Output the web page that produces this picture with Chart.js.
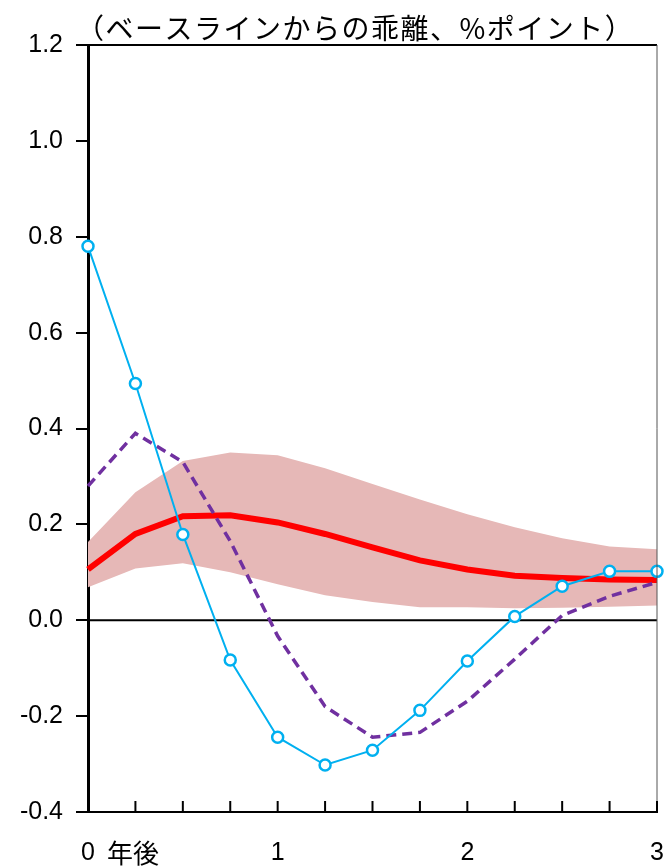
<!DOCTYPE html>
<html>
<head>
<meta charset="utf-8">
<script src="https://cdn.jsdelivr.net/npm/chart.js@4"></script>
<style>
  html, body { margin: 0; padding: 0; background: #fff; }
  #wrap { width: 665px; height: 867px; }
</style>
</head>
<body>
<div id="wrap"><canvas id="lineChart" width="665" height="867"></canvas></div>
<script>
// 四半期ごと（0〜3年後）
const quarters = ['0', '0.25', '0.5', '0.75', '1', '1.25', '1.5', '1.75', '2', '2.25', '2.5', '2.75', '3'];

// 信頼区間（上限・下限）
const bandUpper = [0.163, 0.267, 0.332, 0.350, 0.344, 0.317, 0.284, 0.252, 0.221, 0.194, 0.171, 0.154, 0.148];
const bandLower = [0.069, 0.108, 0.119, 0.100, 0.075, 0.052, 0.038, 0.027, 0.027, 0.025, 0.026, 0.028, 0.031];

// 中心線（赤）
const median = [0.106, 0.180, 0.217, 0.219, 0.204, 0.180, 0.152, 0.125, 0.106, 0.093, 0.088, 0.085, 0.084];

// 破線（紫）
const dashed = [0.280, 0.390, 0.330, 0.165, -0.033, -0.180, -0.244, -0.234, -0.169, -0.081, 0.010, 0.050, 0.079];

// 実績（青・白抜きマーカー）
const actual = [0.780, 0.494, 0.179, -0.083, -0.244, -0.302, -0.271, -0.188, -0.085, 0.008, 0.071, 0.102, 0.102];

const yTicks = { min: -0.4, max: 1.2, step: 0.2 };
const unitLabel = '（ベースラインからの乖離、%ポイント）';
const yearSuffix = '年後';

const fontLatin = "'Liberation Sans', Arial, sans-serif";
const fontJp = "'Noto Sans CJK JP', sans-serif";

// 枠・ゼロ線・内向き目盛・注記
const decorations = {
    id: 'decorations',
    beforeDatasetsDraw(chart) {
        const { ctx, chartArea: a, scales } = chart;
        ctx.save();
        // ゼロ線
        const y0 = scales.y.getPixelForValue(0);
        ctx.strokeStyle = '#000';
        ctx.lineWidth = 2;
        ctx.beginPath();
        ctx.moveTo(a.left, y0);
        ctx.lineTo(a.right, y0);
        ctx.stroke();
        ctx.restore();
    },
    afterDraw(chart) {
        const { ctx, chartArea: a, scales } = chart;
        ctx.save();
        // 上枠・右枠
        ctx.strokeStyle = '#000';
        ctx.lineWidth = 2;
        ctx.beginPath();
        ctx.moveTo(a.left, a.top);
        ctx.lineTo(a.right, a.top);
        ctx.stroke();
        ctx.strokeStyle = '#555';
        ctx.lineWidth = 1;
        ctx.beginPath();
        ctx.moveTo(a.right, a.top);
        ctx.lineTo(a.right, a.bottom);
        ctx.stroke();
        // x軸の内向き目盛
        ctx.strokeStyle = '#000';
        ctx.lineWidth = 2;
        scales.x.ticks.forEach((t, i) => {
            const x = scales.x.getPixelForTick(i);
            ctx.beginPath();
            ctx.moveTo(x, a.bottom);
            ctx.lineTo(x, a.bottom - 11);
            ctx.stroke();
        });
        // 単位
        ctx.fillStyle = '#000';
        ctx.font = '28px ' + fontJp;
        ctx.letterSpacing = '1.5px';
        ctx.textBaseline = 'middle';
        ctx.textAlign = 'left';
        ctx.fillText(unitLabel, a.left - 12, a.top - 17);
        // 「年後」
        ctx.letterSpacing = '0px';
        ctx.font = '26px ' + fontJp;
        ctx.fillText(yearSuffix, scales.x.getPixelForValue(0) + 19, a.bottom + 41);
        ctx.restore();
    }
};

const lineChart = document.getElementById('lineChart').getContext('2d');

new Chart(lineChart, {
    type: 'line',
    data: {
        labels: quarters,
        datasets: [
            {
                label: 'upper',
                data: bandUpper,
                borderWidth: 0,
                pointRadius: 0,
                fill: '+1',
                backgroundColor: 'rgb(230,184,183)',
                order: 5
            },
            {
                label: 'lower',
                data: bandLower,
                borderWidth: 0,
                pointRadius: 0,
                fill: false,
                order: 5
            },
            {
                label: 'median',
                data: median,
                borderColor: '#FF0000',
                borderWidth: 6,
                pointRadius: 0,
                fill: false,
                order: 3
            },
            {
                label: 'dashed',
                data: dashed,
                borderColor: '#7030A0',
                borderWidth: 3.5,
                borderDash: [10, 6],
                pointRadius: 0,
                fill: false,
                order: 2
            },
            {
                label: 'actual',
                data: actual,
                borderColor: '#00B0F0',
                borderWidth: 2,
                pointRadius: 5.5,
                pointBorderWidth: 2.5,
                pointBackgroundColor: '#fff',
                pointBorderColor: '#00B0F0',
                fill: false,
                order: 1
            }
        ]
    },
    options: {
        responsive: false,
        animation: false,
        layout: { padding: { top: 45, right: 8, left: 0, bottom: 0 } },
        plugins: {
            legend: { display: false },
            tooltip: { enabled: false }
        },
        scales: {
            x: {
                type: 'category',
                offset: false,
                grid: { display: true, drawOnChartArea: false, drawTicks: false },
                border: { color: '#000', width: 2 },
                ticks: {
                    autoSkip: false,
                    maxRotation: 0,
                    padding: 26,
                    color: '#000',
                    font: { family: fontLatin, size: 25 },
                    callback: (val, i) => (i % 4 === 0 ? String(i / 4) : '')
                },
                afterFit: s => { s.height = 55; s.paddingLeft = 0; s.paddingRight = 0; }
            },
            y: {
                min: yTicks.min,
                max: yTicks.max,
                grid: { drawOnChartArea: false, tickLength: 12, color: '#000', lineWidth: 2 },
                border: { color: '#000', width: 3 },
                ticks: {
                    stepSize: yTicks.step,
                    padding: 13,
                    color: '#000',
                    font: { family: fontLatin, size: 25 },
                    callback: v => v.toFixed(1)
                },
                afterFit: s => { s.width = 88; s.paddingTop = 0; s.paddingBottom = 0; }
            }
        }
    },
    plugins: [decorations]
});
</script>
</body>
</html>
